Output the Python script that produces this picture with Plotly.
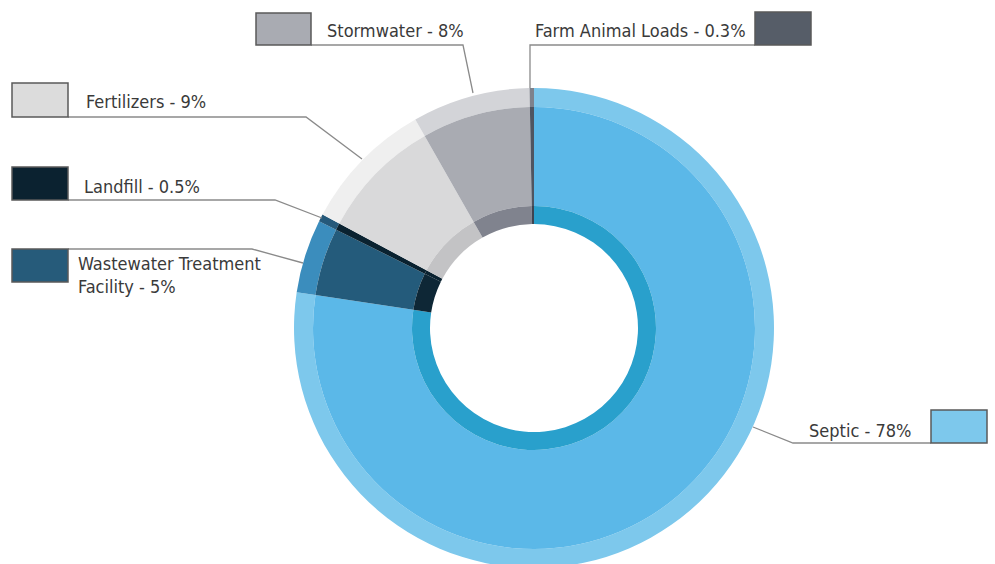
import plotly.graph_objects as go

# ---- data ----
labels = ["Septic", "Wastewater Treatment Facility", "Landfill", "Fertilizers", "Stormwater", "Farm Animal Loads"]
values = [78, 5, 0.5, 9, 8, 0.3]
label_text = ["Septic - 78%", "Wastewater Treatment<br>Facility - 5%", "Landfill - 0.5%",
              "Fertilizers - 9%", "Stormwater - 8%", "Farm Animal Loads - 0.3%"]

outer_colors = ["#7DC8EC", "#3B8DBD", "#25597A", "#EFEFEF", "#D3D4D8", "#7E828C"]
main_colors = ["#5BB8E8", "#245B7B", "#0A2230", "#D9D9DA", "#A9ABB2", "#4F5561"]
inner_colors = ["#29A0CC", "#0E2736", "#0A2230", "#C3C3C5", "#80838E", "#3E4450"]
box_colors = ["#7DC8EC", "#265B7A", "#0B2230", "#DCDCDC", "#A9ABB2", "#565D68"]

# figure is 4px taller than the window so the donut's bottom edge is cropped as in the reference
W, H = 995, 568
CX, CY = 534, 328  # pixel center (from top)
R_OUT, R_MAIN, R_INNER, R_HOLE = 240, 221, 122, 104


def dom(r):
    return dict(x=[(CX - r) / W, (CX + r) / W],
                y=[max(0, (H - CY - r) / H), (H - CY + r) / H])


fig = go.Figure()
for r, hole, cols in [(R_OUT, R_MAIN / R_OUT, outer_colors),
                      (R_MAIN, R_INNER / R_MAIN, main_colors),
                      (R_INNER, R_HOLE / R_INNER, inner_colors)]:
    fig.add_trace(go.Pie(labels=labels, values=values, hole=hole, sort=False,
                         direction="clockwise", rotation=0, domain=dom(r),
                         marker=dict(colors=cols, line=dict(width=0)),
                         textinfo="none", hoverinfo="label+percent", showlegend=False))


def px(x):
    return x / W


def py(y):
    return 1 - y / H


# label layout: (box x0, y0, x1, y1), text x, text y, leader polyline
layout_items = [
    ((931, 410, 987, 443), 807, 430, [(931, 443), (793, 443), (753, 427)]),          # Septic
    ((12, 249, 68, 282), 76, 275, [(68, 249), (252, 249), (303, 263)]),              # Wastewater
    ((12, 167, 68, 200), 82, 186, [(68, 200), (275, 200), (322, 218)]),              # Landfill
    ((12, 83, 68, 117), 84, 101, [(68, 117), (306, 117), (362, 159)]),               # Fertilizers
    ((256, 13, 311, 45), 325, 30, [(311, 45), (463, 45), (473, 93)]),                # Stormwater
    ((755, 12, 811, 45), 533, 30, [(755, 45), (530, 45), (530, 88)]),                # Farm
]

shapes = []
annotations = []
for i, (box, tx, ty, pts) in enumerate(layout_items):
    path = "M " + " L ".join(f"{px(x):.5f},{py(y):.5f}" for x, y in pts)
    shapes.append(dict(type="path", xref="paper", yref="paper", path=path,
                       line=dict(color="#8a8a8a", width=1.3)))
    x0, y0, x1, y1 = box
    shapes.append(dict(type="rect", xref="paper", yref="paper",
                       x0=px(x0), x1=px(x1), y0=py(y1), y1=py(y0),
                       fillcolor=box_colors[i], line=dict(color="#5a5a5a", width=1.5)))
    annotations.append(dict(x=px(tx), y=py(ty), xref="paper", yref="paper",
                            text=label_text[i], showarrow=False, xanchor="left", yanchor="middle",
                            align="left",
                            font=dict(family="DejaVu Sans Condensed, sans-serif",
                                      size=18, color="#3a3a3a")))

fig.update_layout(width=W, height=H, margin=dict(l=0, r=0, t=0, b=0),
                  paper_bgcolor="white", plot_bgcolor="white",
                  shapes=shapes, annotations=annotations)

fig.write_html("out.html", config={"displayModeBar": False},
               post_script="document.body.style.margin='0';document.body.style.overflow='hidden';")
